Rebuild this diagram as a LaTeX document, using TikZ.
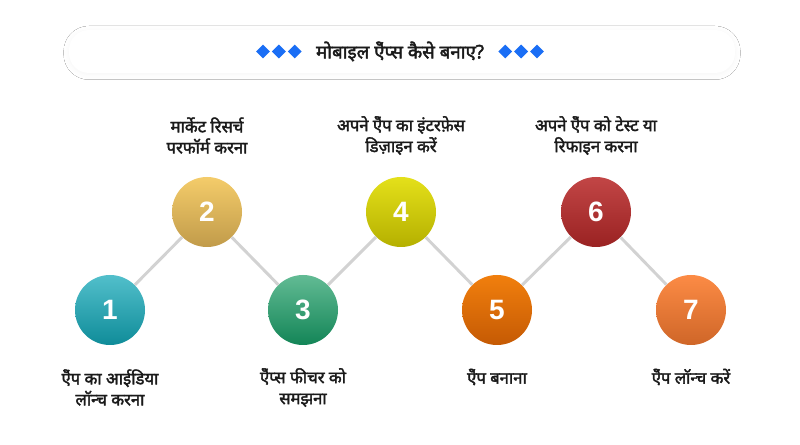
\documentclass[tikz,border=0pt]{standalone}
\usepackage{fontspec}
\setmainfont{Liberation Sans}
\newfontfamily\hindi[Script=Devanagari,AutoFakeBold=2.2]{Noto Sans}
\usetikzlibrary{positioning,shapes.geometric,shadows.blur}
\definecolor{linkgray}{HTML}{D2D2D2}
\definecolor{gemblue}{HTML}{1A6EF5}
\definecolor{inktext}{HTML}{1A1A1A}

\begin{document}
\begin{tikzpicture}[auto,x=0.75pt,y=-0.75pt,
    stage/.style={circle,minimum size=52.5pt,inner sep=0pt,text=white,
      font=\fontsize{21}{21}\selectfont\bfseries},
    link/.style={draw=linkgray,line width=2.2pt},
    caption/.style={align=center,text=inktext,
      font=\hindi\bfseries\fontsize{12.5}{15.75}\selectfont},
    gem/.style={diamond,fill=gemblue,minimum width=10.5pt,minimum height=10.5pt,inner sep=0pt}]
    \useasboundingbox [fill=white] (0,0) rectangle (800,445);

    % banner
    \node (banner) at (402,51.5) [rectangle,rounded corners=15pt,fill=white,
      minimum width=499.5pt,minimum height=32.25pt,
      blur shadow={shadow xshift=0pt,shadow yshift=-1pt,shadow blur radius=4pt,shadow opacity=4}] {};
    \node (title) at (400,51.5) [text=inktext,font=\hindi\bfseries\fontsize{14}{16}\selectfont] {मोबाइल ऐॅप्स कैसे बनाए?};
    \node [gem,left=7pt of title]  (gl3) {};
    \node [gem,left=1pt of gl3]    (gl2) {};
    \node [gem,left=1pt of gl2]    (gl1) {};
    \node [gem,right=7pt of title] (gr1) {};
    \node [gem,right=1pt of gr1]   (gr2) {};
    \node [gem,right=1pt of gr2]   (gr3) {};

    % steps
    \node [stage,top color={rgb,255:red,82;green,191;blue,203},bottom color={rgb,255:red,15;green,140;blue,153}] (s1) at (110,310) {1};
    \node [stage,top color={rgb,255:red,244;green,204;blue,106},bottom color={rgb,255:red,193;green,155;blue,74}] (s2) at (207,212) {2};
    \node [stage,top color={rgb,255:red,98;green,187;blue,148},bottom color={rgb,255:red,19;green,133;blue,87}] (s3) at (303,310) {3};
    \node [stage,top color={rgb,255:red,228;green,224;blue,26},bottom color={rgb,255:red,181;green,176;blue,0}] (s4) at (401,212) {4};
    \node [stage,top color={rgb,255:red,241;green,127;blue,13},bottom color={rgb,255:red,197;green,90;blue,4}] (s5) at (497,310) {5};
    \node [stage,top color={rgb,255:red,194;green,70;blue,70},bottom color={rgb,255:red,154;green,34;blue,34}] (s6) at (596,212) {6};
    \node [stage,top color={rgb,255:red,252;green,139;blue,69},bottom color={rgb,255:red,207;green,102;blue,40}] (s7) at (691,310) {7};

    \draw [link] (s1) -- (s2);
    \draw [link] (s2) -- (s3);
    \draw [link] (s3) -- (s4);
    \draw [link] (s4) -- (s5);
    \draw [link] (s5) -- (s6);
    \draw [link] (s6) -- (s7);

    % captions
    \node [caption] (c1) at (110,387.5) {ऐॅप का आईडिया\\लॉन्च करना};
    \node [caption] (c2) at (207,135.5) {मार्केट रिसर्च\\परफॉर्म करना};
    \node [caption] (c3) at (303,387.5) {ऐॅप्स फीचर को\\समझना};
    \node [caption] (c4) at (401,135.5) {अपने ऐॅप का इंटरफ़ेस\\डिज़ाइन करें};
    \node [caption] (c5) at (497,377) {ऐॅप बनाना};
    \node [caption] (c6) at (596,135.5) {अपने ऐॅप को टेस्ट या\\रिफाइन करना};
    \node [caption] (c7) at (691,377) {ऐॅप लॉन्च करें};
\end{tikzpicture}
\end{document}
